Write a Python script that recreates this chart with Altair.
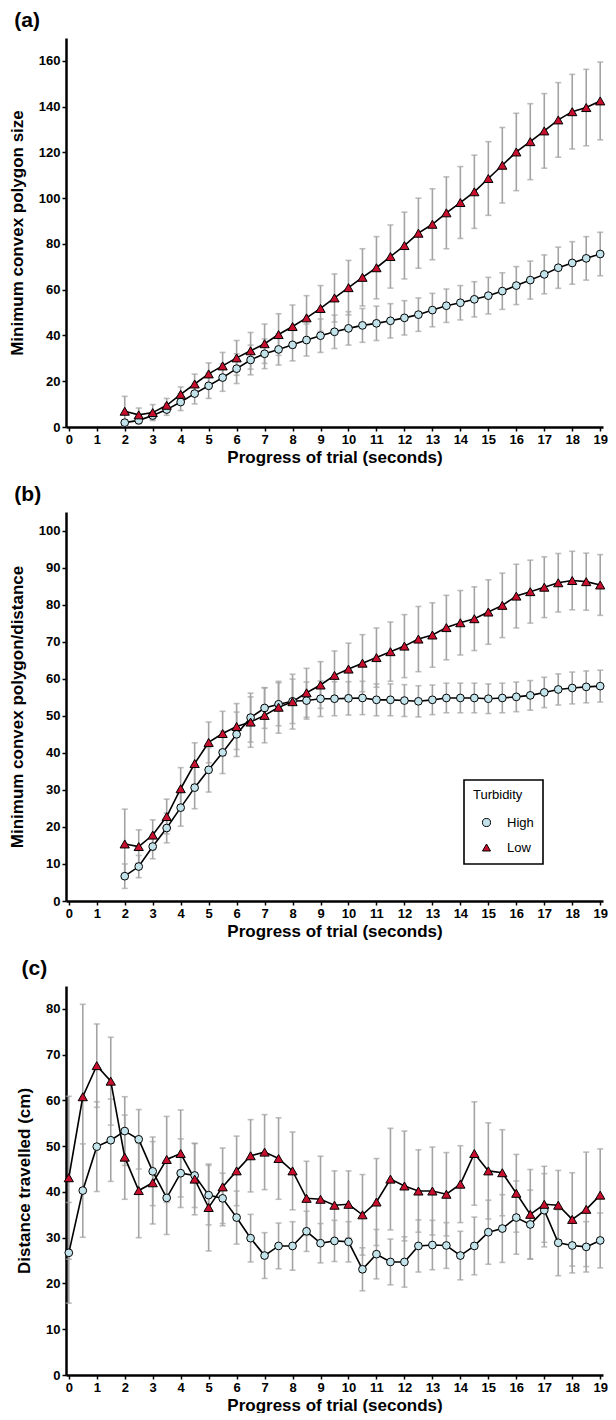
import altair as alt
import pandas as pd

# ---------------- data ----------------
t_ab = [2, 2.5, 3, 3.5, 4, 4.5, 5, 5.5, 6, 6.5, 7, 7.5, 8, 8.5, 9, 9.5, 10, 10.5, 11,
        11.5, 12, 12.5, 13, 13.5, 14, 14.5, 15, 15.5, 16, 16.5, 17, 17.5, 18, 18.5, 19]
t_c = [0, 0.5, 1, 1.5] + t_ab

a_high_mean = [1.9, 2.9, 5.0, 7.6, 10.9, 14.6, 18.0, 21.6, 25.5, 29.3, 32.0, 33.9, 35.9, 38.0,
               39.9, 41.6, 43.1, 44.4, 45.3, 46.4, 47.7, 49.1, 51.1, 53.0, 54.3, 55.8, 57.4,
               59.4, 61.8, 64.2, 66.7, 69.6, 71.7, 73.7, 75.6]
a_high_err = [1.0, 1.5, 1.8, 2.5, 3.7, 4.5, 5.5, 6.0, 6.5, 6.5, 6.5, 6.8, 7.0, 7.0, 7.3, 7.3,
              7.3, 7.4, 7.5, 7.5, 7.5, 7.3, 7.3, 7.3, 7.5, 7.7, 8.0, 8.0, 8.3, 8.3, 8.5, 9.0,
              9.3, 9.5, 9.5]
a_low_mean = [6.9, 5.3, 6.3, 9.5, 14.3, 18.8, 23.2, 26.7, 30.2, 33.3, 36.4, 40.4, 43.9, 47.7,
              51.8, 56.4, 60.9, 65.4, 69.6, 74.5, 79.3, 84.7, 88.6, 93.6, 98.1, 102.8, 108.6,
              114.4, 120.2, 124.7, 129.4, 134.2, 137.8, 139.6, 142.5]
a_low_err = [6.5, 3.0, 3.5, 3.0, 3.2, 4.3, 4.8, 5.9, 7.6, 8.0, 8.6, 9.1, 9.4, 9.7, 10.0, 10.5,
             11.9, 12.5, 13.6, 13.8, 14.6, 15.3, 15.5, 15.7, 15.7, 16.0, 16.1, 16.5, 16.9,
             16.6, 16.3, 16.3, 16.3, 16.7, 17.0]

b_high_mean = [6.7, 9.3, 14.7, 19.7, 25.2, 30.6, 35.4, 40.1, 45.0, 49.5, 52.1, 53.1, 53.9, 54.1,
               54.6, 54.6, 54.7, 54.8, 54.3, 54.3, 54.1, 53.9, 54.3, 54.8, 54.8, 54.8, 54.6,
               54.8, 55.1, 55.5, 56.3, 57.1, 57.5, 57.8, 58.0]
b_high_err = [3.3, 3.0, 3.3, 4.0, 5.0, 5.7, 6.0, 5.7, 6.0, 6.6, 5.5, 5.8, 6.0, 5.0, 4.8, 4.6,
              4.5, 4.5, 4.3, 4.3, 4.3, 4.2, 4.0, 4.0, 4.0, 4.0, 4.0, 4.0, 4.0, 4.0, 4.1, 4.2,
              4.3, 4.3, 4.3]
b_low_mean = [15.4, 14.7, 17.8, 22.8, 30.3, 37.1, 42.8, 45.2, 47.1, 48.3, 50.1, 52.3, 53.8,
              56.2, 58.3, 60.9, 62.6, 64.2, 65.7, 67.3, 68.8, 70.7, 71.8, 73.8, 75.1, 76.2,
              78.0, 79.8, 82.3, 83.5, 84.7, 85.9, 86.5, 86.2, 85.3]
b_low_err = [9.4, 4.5, 4.1, 4.7, 5.7, 5.6, 5.5, 6.0, 6.2, 6.8, 7.4, 7.0, 7.4, 6.6, 6.3, 6.6,
             7.0, 7.7, 8.0, 8.0, 8.5, 8.8, 8.7, 8.7, 8.7, 8.6, 8.7, 8.7, 8.6, 8.5, 8.2, 7.9,
             7.9, 7.7, 8.2]

c_high_mean = [26.7, 40.3, 49.9, 51.3, 53.3, 51.5, 44.5, 38.7, 44.1, 43.6, 39.3, 38.6, 34.4,
               29.9, 26.1, 28.2, 28.2, 31.4, 28.8, 29.3, 29.1, 23.1, 26.4, 24.7, 24.7, 28.2,
               28.4, 28.3, 26.1, 28.2, 31.2, 32.0, 34.4, 32.9, 36.0, 28.9, 28.3, 28.0, 29.4]
c_high_err = [11.0, 10.2, 9.8, 9.0, 7.5, 6.5, 7.5, 8.0, 7.5, 7.0, 6.5, 5.5, 5.8, 5.2, 5.0, 5.0,
              5.3, 4.4, 4.3, 4.5, 4.4, 4.7, 5.4, 5.0, 5.5, 5.7, 5.4, 5.0, 5.3, 6.3, 7.0, 7.4,
              8.0, 7.5, 8.0, 7.2, 6.0, 5.5, 6.0]
c_low_mean = [43.1, 60.8, 67.6, 64.2, 47.6, 40.3, 42.0, 47.1, 48.4, 42.8, 36.6, 41.1, 44.6,
              47.9, 48.7, 47.3, 44.6, 38.6, 38.4, 37.1, 37.3, 35.0, 37.8, 42.8, 41.3, 40.2,
              40.2, 39.5, 41.7, 48.4, 44.6, 44.2, 39.7, 35.1, 37.3, 37.1, 34.0, 36.2, 39.3]
c_low_err = [17.8, 20.2, 9.1, 9.6, 9.2, 10.3, 9.0, 9.4, 9.5, 7.8, 9.5, 8.5, 7.6, 7.9, 8.2, 8.9,
             8.5, 8.1, 9.4, 7.5, 7.3, 8.8, 9.5, 11.1, 12.0, 9.0, 9.6, 9.1, 8.4, 11.3, 10.5,
             9.4, 8.5, 9.8, 8.3, 7.6, 10.2, 12.5, 10.1]

groups = ["High", "Low"]
x_ticks = list(range(0, 20))

# ---------------- styling ----------------
FONT = "Liberation Sans"
HIGH_FILL = "#c3e3eb"
LOW_FILL = "#c8102e"
ERR_COL = "#a3a3a3"
PW, PH = 537, 389


def make_df(t, hm, he, lm, le):
    hi = pd.DataFrame({"t": t, "mean": hm, "err": he, "group": "High"})
    lo = pd.DataFrame({"t": t, "mean": lm, "err": le, "group": "Low"})
    df = pd.concat([hi, lo], ignore_index=True)
    df["lo"] = df["mean"] - df["err"]
    df["hi"] = df["mean"] + df["err"]
    return df


def panel(df, label, ytitle, ymax, yticks, show_legend=False):
    xs = alt.Scale(domain=[-0.1, 19.1], nice=False, zero=False)
    xa = alt.Axis(values=x_ticks, title="Progress of trial (seconds)", format="d",
                  labelFlush=False, labelOverlap=False)
    ys = alt.Scale(domain=[0, ymax], nice=False)
    ya = alt.Axis(values=yticks, title=ytitle, format="d", labelOverlap=False)

    def X():
        return alt.X("t:Q", scale=xs, axis=xa)

    def Y(f):
        return alt.Y(f + ":Q", scale=ys, axis=ya)

    base = alt.Chart(df)
    rules = base.mark_rule(color=ERR_COL, strokeWidth=1.6).encode(
        x=X(), y=Y("lo"), y2="hi:Q")
    cap_lo = base.mark_tick(color=ERR_COL, orient="horizontal", size=6, thickness=1.6).encode(
        x=X(), y=Y("lo"))
    cap_hi = base.mark_tick(color=ERR_COL, orient="horizontal", size=6, thickness=1.6).encode(
        x=X(), y=Y("hi"))
    line = base.mark_line(color="black", strokeWidth=1.6).encode(
        x=X(), y=Y("mean"), detail="group:N")

    if show_legend:
        leg = alt.Legend(title="Turbidity", orient="none", legendX=398, legendY=268,
                         strokeColor="black", padding=9, fillColor="white",
                         titleFont=FONT, titleFontSize=13, titleFontWeight="normal",
                         labelFont=FONT, labelFontSize=13, titleColor="black",
                         labelColor="black", symbolStrokeColor="black",
                         symbolStrokeWidth=1, symbolSize=65, rowPadding=11,
                         titlePadding=14, labelOffset=14, symbolOffset=7)
    else:
        leg = None

    fill_enc = alt.Fill("group:N", scale=alt.Scale(domain=groups, range=[HIGH_FILL, LOW_FILL]),
                        legend=leg)
    shape_enc = alt.Shape("group:N",
                          scale=alt.Scale(domain=groups, range=["circle", "triangle-up"]),
                          legend=leg)
    stroke_enc = alt.Stroke("group:N", scale=alt.Scale(domain=groups, range=["black", "black"]),
                            legend=leg)

    pts_high = base.transform_filter(alt.datum.group == "High").mark_point(
        filled=True, strokeWidth=1, opacity=1, size=60).encode(
        x=X(), y=Y("mean"), fill=fill_enc, shape=shape_enc, stroke=stroke_enc)
    pts_low = base.transform_filter(alt.datum.group == "Low").mark_point(
        filled=True, strokeWidth=1, opacity=1, size=85).encode(
        x=X(), y=Y("mean"), fill=fill_enc, shape=shape_enc, stroke=stroke_enc)

    return alt.layer(rules, cap_lo, cap_hi, line, pts_high, pts_low).properties(
        width=PW, height=PH,
        title=alt.TitleParams(label, anchor="start", frame="bounds", fontSize=21,
                              fontWeight="bold", font=FONT, color="black", offset=7, dx=6),
    )


da = make_df(t_ab, a_high_mean, a_high_err, a_low_mean, a_low_err)
db = make_df(t_ab, b_high_mean, b_high_err, b_low_mean, b_low_err)
dc = make_df(t_c, c_high_mean, c_high_err, c_low_mean, c_low_err)

pa = panel(da, "(a)", "Minimum convex polygon size", 170, list(range(0, 161, 20)))
pb = panel(db, "(b)", "Minimum convex polygon/distance", 105, list(range(0, 101, 10)),
           show_legend=True)
pc = panel(dc, "(c)", "Distance travelled (cm)", 85, list(range(0, 81, 10)))

chart = alt.vconcat(pa, pb, pc, spacing=19).resolve_scale(
    fill="independent", shape="independent", stroke="independent"
).properties(
    padding={"top": 2, "left": 0, "right": 0, "bottom": 0}
).configure_view(stroke=None).configure_axis(
    grid=False, domainColor="black", domainWidth=2.5, tickColor="black", tickWidth=1.5,
    tickSize=4, labelFont=FONT, labelFontSize=13, labelFontWeight="bold", labelColor="black",
    labelPadding=2, titleFont=FONT, titleFontSize=17, titleFontWeight="bold",
    titleColor="black"
).configure_axisX(titlePadding=3).configure_axisY(titlePadding=12).configure_legend(
    strokeWidth=1.6
)

chart.save("out.html", embed_options={"renderer": "svg", "actions": False})
